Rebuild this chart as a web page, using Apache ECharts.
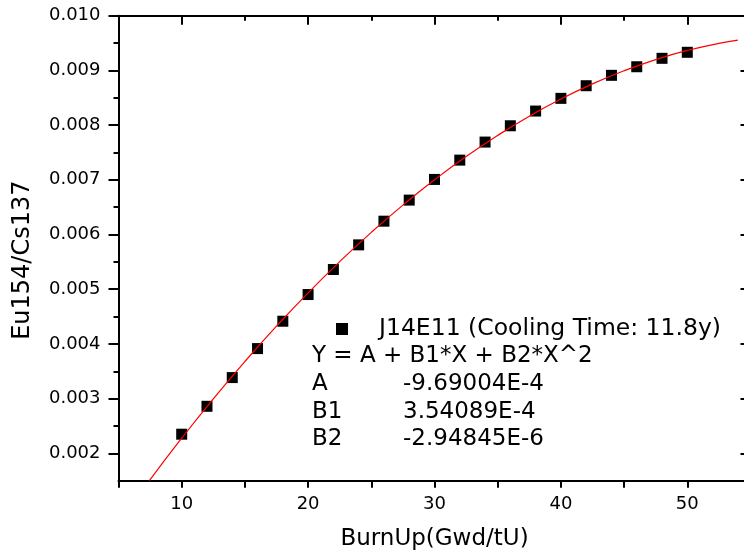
<!DOCTYPE html>
<html><head><meta charset="utf-8">
<script src="https://cdn.jsdelivr.net/npm/echarts@6/dist/echarts.min.js"></script>
<style>html,body{margin:0;padding:0;background:#fff;overflow:hidden}#c{width:752px;height:556px}</style>
</head><body><div id="c"></div>
<script>
// ---- data ----
const burnUp = [10, 12, 14, 16, 18, 20, 22, 24, 26, 28, 30, 32, 34, 36, 38, 40, 42, 44, 46, 48, 50];
const ratio = [0.00235, 0.00286, 0.003385, 0.003915, 0.004415, 0.004903, 0.005361, 0.005811, 0.006244, 0.006629,
  0.007007, 0.00736, 0.00769, 0.007988, 0.008257, 0.008489, 0.00872, 0.00891, 0.009067, 0.009221, 0.009331];
const fitBurnUp = [7.44, 10, 12.5, 15, 17.5, 20, 22.5, 25, 27.5, 30, 32.5, 35, 37.5, 40, 42.5, 45, 47.5, 50, 52.5, 54];
const fitRatio = [0.001502, 0.002277, 0.002997, 0.003679, 0.004325, 0.004934, 0.005505, 0.006040, 0.006538, 0.007000,
  0.007425, 0.007812, 0.008163, 0.008477, 0.008754, 0.008994, 0.009198, 0.009364, 0.009494, 0.009554];
const xMajorTicks = [10, 20, 30, 40, 50];
const xMinorTicks = [15, 25, 35, 45];
const yMajorTicks = [0.002, 0.003, 0.004, 0.005, 0.006, 0.007, 0.008, 0.009, 0.010];
const yMinorTicks = [0.0025, 0.0035, 0.0045, 0.0055, 0.0065, 0.0075, 0.0085, 0.0095];
const seriesName = 'J14E11 (Cooling Time: 11.8y)';
const fitEquation = 'Y = A + B1*X + B2*X^2';
const paramNames = ['A', 'B1', 'B2'];
const paramValues = ['-9.69004E-4', '3.54089E-4', '-2.94845E-6'];
const xTitle = 'BurnUp(Gwd/tU)';
const yTitle = 'Eu154/Cs137';

// ---- chart ----
const FONT = 'DejaVu Sans';
const chart = echarts.init(document.getElementById('c'), null, {renderer: 'canvas'});
const lineStyle = {color: '#000', width: 2};
const xRange = {min: 5, max: 55};
const yRange = {min: 0.0015, max: 0.010};

const graphicEls = [];
graphicEls.push({type: 'text', x: 312, y: 356, style: {text: fitEquation, fontFamily: FONT, fontSize: 23, fill: '#000', verticalAlign: 'middle'}});
paramNames.forEach((n, i) => {
  graphicEls.push({type: 'text', x: 312, y: 384 + i * 27.7, style: {text: n, fontFamily: FONT, fontSize: 23, fill: '#000', verticalAlign: 'middle'}});
  graphicEls.push({type: 'text', x: 403, y: 384 + i * 27.7, style: {text: paramValues[i], fontFamily: FONT, fontSize: 23, fill: '#000', verticalAlign: 'middle'}});
});

chart.setOption({
  backgroundColor: '#fff',
  animation: false,
  grid: {left: 118.5, top: 15.7, width: 632, height: 465, containLabel: false},
  legend: {
    data: [seriesName], left: 331, top: 312, itemWidth: 12, itemHeight: 12, icon: 'rect',
    textStyle: {fontFamily: FONT, fontSize: 23.5, color: '#000', padding: [0, 0, 0, 26]},
    itemStyle: {color: '#000', opacity: 1}
  },
  xAxis: [
    {type: 'value', position: 'bottom', ...xRange, interval: 5,
      name: xTitle, nameLocation: 'middle', nameGap: 47,
      nameTextStyle: {fontFamily: FONT, fontSize: 23, color: '#000'},
      axisLine: {show: true, onZero: false, lineStyle},
      axisTick: {show: true, inside: false, length: 7, lineStyle: {color: '#000', width: 2}},
      axisLabel: {show: true, customValues: xMajorTicks, margin: 15, fontFamily: FONT, fontSize: 18, color: '#000'},
      splitLine: {show: false}},
    {type: 'value', position: 'top', ...xRange,
      axisLine: {show: true, onZero: false, lineStyle},
      axisTick: {show: true, inside: true, length: 9, customValues: xMajorTicks, lineStyle: {color: '#000', width: 2}},
      axisLabel: {show: false}, splitLine: {show: false}},
    {type: 'value', position: 'top', ...xRange,
      axisLine: {show: false, onZero: false},
      axisTick: {show: true, inside: true, length: 5, customValues: xMinorTicks, lineStyle: {color: '#000', width: 2}},
      axisLabel: {show: false}, splitLine: {show: false}}
  ],
  yAxis: [
    {type: 'value', position: 'left', ...yRange,
      name: yTitle, nameLocation: 'middle', nameGap: 84, nameRotate: 90,
      nameTextStyle: {fontFamily: FONT, fontSize: 24, color: '#000', padding: [0, 24, 0, 0]},
      axisLine: {show: true, onZero: false, lineStyle},
      axisTick: {show: true, inside: false, length: 10, customValues: yMajorTicks, lineStyle: {color: '#000', width: 2}},
      axisLabel: {show: true, customValues: yMajorTicks, margin: 18, fontFamily: FONT, fontSize: 18, color: '#000',
        formatter: v => v.toFixed(3)},
      splitLine: {show: false}},
    {type: 'value', position: 'left', ...yRange,
      axisLine: {show: false, onZero: false},
      axisTick: {show: true, inside: false, length: 5, customValues: yMinorTicks, lineStyle: {color: '#000', width: 2}},
      axisLabel: {show: false}, splitLine: {show: false}},
    {type: 'value', position: 'right', ...yRange,
      axisLine: {show: true, onZero: false, lineStyle},
      axisTick: {show: true, inside: true, length: 10, customValues: yMajorTicks, lineStyle: {color: '#000', width: 2}},
      axisLabel: {show: false}, splitLine: {show: false}}
  ],
  series: [
    {name: seriesName, type: 'scatter', xAxisIndex: 0, yAxisIndex: 0, symbol: 'rect', symbolSize: 11,
      itemStyle: {color: '#000', opacity: 1}, z: 2,
      data: burnUp.map((x, i) => [x, ratio[i]])},
    {name: 'fit', type: 'line', xAxisIndex: 0, yAxisIndex: 0, smooth: true, showSymbol: false, symbol: 'none',
      lineStyle: {color: '#ff0000', width: 1.2}, z: 3,
      data: fitBurnUp.map((x, i) => [x, fitRatio[i]])}
  ],
  graphic: graphicEls
});
</script></body></html>
